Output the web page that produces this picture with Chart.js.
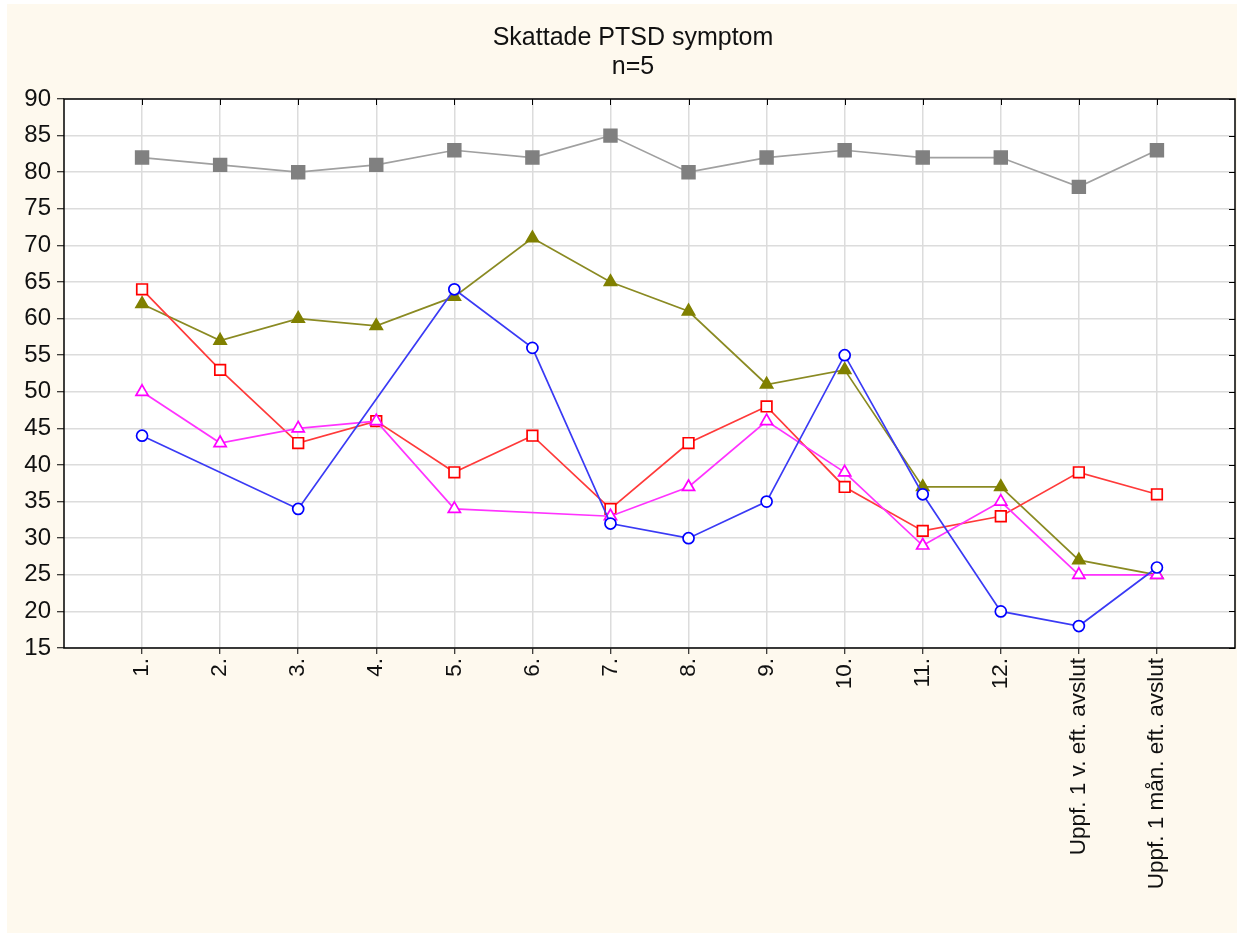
<!DOCTYPE html>
<html>
<head>
<meta charset="utf-8">
<script src="https://cdn.jsdelivr.net/npm/chart.js@4/dist/chart.umd.min.js"></script>
<style>
  html, body { margin: 0; padding: 0; background: #fff; }
  #wrap { width: 1237px; height: 933px; position: relative; }
</style>
</head>
<body>
<div id="wrap"><canvas id="ptsdChart" width="1237" height="933"></canvas></div>
<script>
const xCats = ['1.', '2.', '3.', '4.', '5.', '6.', '7.', '8.', '9.', '10.', '11.', '12.',
               'Uppf. 1 v. eft. avslut', 'Uppf. 1 mån. eft. avslut'];

const grayVals  = [82, 81, 80, 81, 83, 82, 85, 80, 82, 83, 82, 82, 78, 83];
const oliveVals = [62, 57, 60, 59, 63, 71, 65, 61, 51, 53, 37, 37, 27, 25];
const redVals   = [64, 53, 43, 46, 39, 44, 34, 43, 48, 37, 31, 33, 39, 36];
const pinkVals  = [50, 43, 45, 46, 34, null, 33, 37, 46, 39, 29, 35, 25, 25];
const blueVals  = [44, null, 34, null, 64, 56, 32, 30, 35, 55, 36, 20, 18, 26];

const yTicks = [15, 20, 25, 30, 35, 40, 45, 50, 55, 60, 65, 70, 75, 80, 85, 90];
const titleLines = ['Skattade PTSD symptom', 'n=5'];

const FONT = 'Liberation Sans, Arial, sans-serif';

// markers never sit on the frame here, so no extra room is needed for them
Chart.LineController.prototype.getMaxOverflow = function () { return 0; };

function toPoints(vals) {
    return vals.map((v, i) => ({ x: i + 1, y: v }));
}

// background, title, plot frame and inward ticks like the original
const framePlugin = {
    id: 'frame',
    beforeDraw(c) {
        const ctx = c.ctx, a = c.chartArea;
        ctx.save();
        ctx.fillStyle = '#ffffff';
        ctx.fillRect(0, 0, c.width, c.height);
        ctx.fillStyle = '#fef9ee';
        ctx.fillRect(7, 4, c.width - 7, c.height - 4);
        ctx.fillStyle = '#ffffff';
        ctx.fillRect(a.left, a.top, a.right - a.left, a.bottom - a.top);
        ctx.fillStyle = '#111';
        ctx.font = '25px ' + FONT;
        ctx.textAlign = 'center';
        ctx.textBaseline = 'middle';
        titleLines.forEach((t, i) => ctx.fillText(t, 633, 38 + i * 29));
        ctx.restore();
    },
    afterDraw(c) {
        const ctx = c.ctx, a = c.chartArea;
        const xs = c.scales.x, ys = c.scales.y;
        ctx.save();
        ctx.strokeStyle = '#000';
        ctx.lineWidth = 1.5;
        ctx.strokeRect(a.left, a.top, a.right - a.left, a.bottom - a.top);
        ctx.lineWidth = 1;
        ctx.beginPath();
        xs.ticks.forEach(t => {
            const px = Math.round(xs.getPixelForValue(t.value)) + 0.5;
            ctx.moveTo(px, a.top);
            ctx.lineTo(px, a.top + 6);
        });
        ys.ticks.forEach(t => {
            const py = Math.round(ys.getPixelForValue(t.value)) + 0.5;
            ctx.moveTo(a.right, py);
            ctx.lineTo(a.right - 6, py);
        });
        ctx.stroke();
        ctx.restore();
    }
};

function series(vals, lineColor, markColor, style, radius, filled) {
    return {
        data: toPoints(vals),
        borderColor: lineColor,
        borderWidth: 1.7,
        pointStyle: style,
        pointRadius: radius,
        pointBorderColor: markColor,
        pointBorderWidth: 1.7,
        pointBackgroundColor: filled ? markColor : '#ffffff',
        spanGaps: true,
        tension: 0
    };
}

const ctx = document.getElementById('ptsdChart').getContext('2d');
new Chart(ctx, {
    type: 'line',
    data: {
        datasets: [
            series(blueVals, '#3a3af5', '#0000ff', 'circle', 5.5, false),
            series(pinkVals, '#ff33ff', '#ff00ff', 'triangle', 7, false),
            series(redVals, '#ff3a3a', '#ff0000', 'rect', 7.5, false),
            series(oliveVals, '#8a8a22', '#808000', 'triangle', 7, true),
            series(grayVals, '#a0a0a0', '#808080', 'rect', 9, true)
        ]
    },
    options: {
        responsive: false,
        animation: false,
        layout: { padding: { left: 0, right: 2, top: 99, bottom: 0 } },
        plugins: {
            legend: { display: false },
            tooltip: { enabled: false },
            title: { display: false }
        },
        scales: {
            x: {
                type: 'linear',
                min: 0,
                max: 15,
                afterBuildTicks: s => { s.ticks = xCats.map((_, i) => ({ value: i + 1 })); },
                afterFit: s => { s.height = 285; s.paddingLeft = 0; s.paddingRight = 0; },
                ticks: {
                    autoSkip: false,
                    minRotation: 90,
                    maxRotation: 90,
                    padding: 4,
                    color: '#111',
                    font: { family: FONT, size: 22.5 },
                    callback: v => xCats[v - 1]
                },
                grid: { color: '#dcdcdc', lineWidth: 1.5, tickColor: '#000', tickLength: 6, tickWidth: 1 },
                border: { display: false }
            },
            y: {
                min: 15,
                max: 90,
                afterBuildTicks: s => { s.ticks = yTicks.map(v => ({ value: v })); },
                afterFit: s => { s.width = 64; s.paddingTop = 0; s.paddingBottom = 0; },
                ticks: {
                    padding: 6,
                    color: '#111',
                    font: { family: FONT, size: 24 }
                },
                grid: { color: '#dcdcdc', lineWidth: 1.5, tickColor: '#000', tickLength: 7, tickWidth: 1 },
                border: { display: false }
            }
        }
    },
    plugins: [framePlugin]
});
</script>
</body>
</html>
